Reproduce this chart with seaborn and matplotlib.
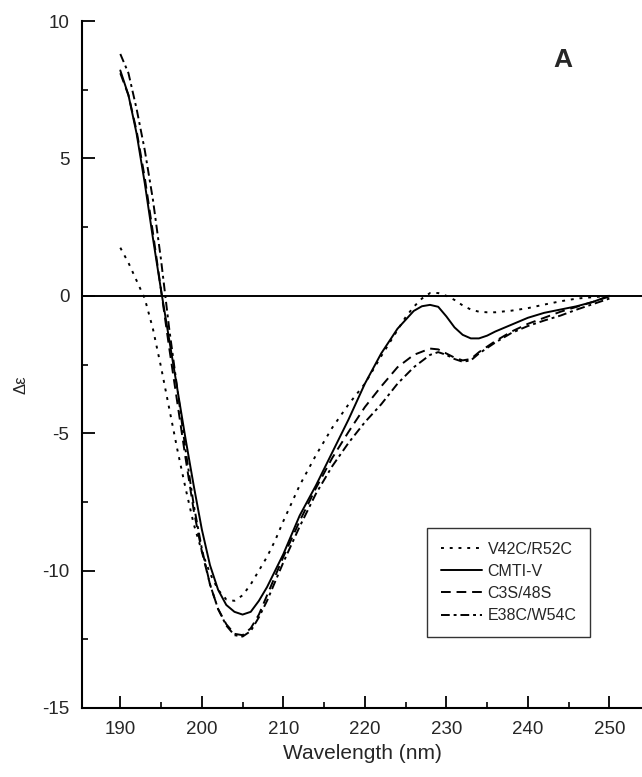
import numpy as np
import pandas as pd
import matplotlib
matplotlib.use("Agg")
import matplotlib.pyplot as plt
import seaborn as sns
from matplotlib.ticker import MultipleLocator
from matplotlib.lines import Line2D

# ---- data ----
wl_v42 = [190, 191, 192, 193, 194, 195, 196, 197, 198, 199, 200, 201, 202, 203, 204, 205, 206, 207, 208, 209,
          210, 212, 214, 216, 218, 220, 222, 224, 225, 226, 227, 228, 229, 230, 231, 232, 233, 234, 235, 236,
          238, 240, 242, 244, 246, 248, 250]
de_v42 = [1.75, 1.2, 0.55, -0.1, -1.2, -2.6, -4.1, -5.6, -7.0, -8.3, -9.3, -10.1, -10.7, -11.05, -11.1, -10.9, -10.5, -10.0, -9.5, -8.9,
          -8.2, -6.9, -5.8, -4.8, -3.95, -3.2, -2.2, -1.25, -0.78, -0.4, -0.1, 0.1, 0.1, 0.0, -0.15, -0.35, -0.5, -0.58, -0.6, -0.6,
          -0.54, -0.45, -0.32, -0.2, -0.1, -0.05, 0.0]

wl_cmti = [190, 191, 192, 193, 194, 195, 196, 197, 198, 199, 200, 201, 202, 203, 204, 205, 206, 207, 208, 209,
           210, 212, 214, 216, 218, 220, 222, 224, 226, 227, 228, 229, 230, 231, 232, 233, 234, 235, 236,
           238, 240, 242, 244, 246, 248, 250]
de_cmti = [8.2, 7.3, 5.9, 4.1, 2.1, 0.2, -1.6, -3.4, -5.2, -6.9, -8.5, -9.8, -10.7, -11.25, -11.5, -11.6, -11.5, -11.1, -10.6, -10.0,
           -9.4, -8.0, -6.9, -5.7, -4.5, -3.2, -2.1, -1.2, -0.55, -0.38, -0.33, -0.4, -0.75, -1.15, -1.42, -1.55, -1.55, -1.45, -1.3,
           -1.05, -0.8, -0.62, -0.5, -0.38, -0.22, 0.0]

wl_c3s = [190, 191, 192, 193, 194, 195, 196, 197, 198, 199, 200, 201, 202, 203, 204, 205, 206, 207, 208, 209,
          210, 212, 214, 216, 218, 220, 222, 224, 226, 228, 229, 230, 231, 232, 233, 234, 236,
          238, 240, 242, 244, 246, 248, 250]
de_c3s = [8.1, 7.3, 6.0, 4.3, 2.3, 0.2, -1.9, -3.9, -5.9, -7.8, -9.3, -10.5, -11.4, -11.95, -12.3, -12.35, -12.1, -11.6, -10.9, -10.2,
          -9.5, -8.2, -7.0, -5.9, -4.95, -4.05, -3.3, -2.6, -2.15, -1.92, -1.95, -2.1, -2.25, -2.35, -2.3, -2.05, -1.65,
          -1.3, -1.02, -0.8, -0.58, -0.4, -0.22, -0.02]

wl_e38 = [190, 191, 192, 193, 194, 195, 196, 197, 198, 199, 200, 201, 202, 203, 204, 205, 206, 207, 208, 209,
          210, 212, 214, 216, 218, 220, 222, 224, 226, 228, 229, 230, 231, 232, 233, 234, 236,
          238, 240, 242, 244, 246, 248, 250]
de_e38 = [8.8, 8.1, 6.8, 5.3, 3.5, 1.3, -1.2, -3.4, -5.6, -7.6, -9.2, -10.5, -11.4, -12.0, -12.35, -12.4, -12.2, -11.7, -11.1, -10.4,
          -9.7, -8.4, -7.2, -6.2, -5.35, -4.6, -3.95, -3.2, -2.6, -2.15, -2.05, -2.15, -2.3, -2.4, -2.35, -2.1, -1.7,
          -1.35, -1.1, -0.9, -0.72, -0.5, -0.3, -0.1]

labels = ["V42C/R52C", "CMTI-V", "C3S/48S", "E38C/W54C"]
xticks = [190, 200, 210, 220, 230, 240, 250]
yticks = [-15, -10, -5, 0, 5, 10]

styles = [(0, (1.5, 3.0)), "-", (0, (5.0, 3.0)), (0, (4.5, 2.0, 1.5, 2.0))]

sns.set_style("ticks")
plt.rcParams["font.family"] = ["Liberation Sans", "DejaVu Sans"]
plt.rcParams["axes.unicode_minus"] = False

fig = plt.figure(figsize=(6.42, 7.77), dpi=100)
ax = fig.add_axes([82 / 642, 69 / 777, 560 / 642, 687 / 777])

series = [(wl_v42, de_v42), (wl_cmti, de_cmti), (wl_c3s, de_c3s), (wl_e38, de_e38)]
handles = []
for (wl, de), lab, ls in zip(series, labels, styles):
    df = pd.DataFrame({"wl": wl, "de": de})
    sns.lineplot(data=df, x="wl", y="de", ax=ax, color="black", linewidth=1.4,
                 linestyle=ls, sort=True, legend=False)
    handles.append(Line2D([0], [0], color="black", linewidth=1.4, linestyle=ls, label=lab))

ax.axhline(0, color="black", linewidth=1.4)

ax.set_xlim(185.3, 254.0)
ax.set_ylim(-15, 10)
ax.set_xticks(xticks)
ax.set_yticks(yticks)
ax.xaxis.set_minor_locator(MultipleLocator(5))
ax.yaxis.set_minor_locator(MultipleLocator(2.5))
ax.tick_params(which="major", direction="in", length=9, width=1.3, labelsize=13.5, pad=9, color="black")
ax.tick_params(which="minor", direction="in", length=4.5, width=1.2, color="black")
for s in ["top", "right"]:
    ax.spines[s].set_visible(False)
for s in ["left", "bottom"]:
    ax.spines[s].set_linewidth(1.5)
    ax.spines[s].set_color("black")

ax.set_xlabel("Wavelength (nm)", fontsize=15, labelpad=5)
ax.set_ylabel("Δε", fontsize=12)
ax.yaxis.set_label_coords(-0.095, 0.47)

ax.text(0.859, 0.943, "A", transform=ax.transAxes, fontsize=19, fontweight="bold",
        ha="center", va="center")

leg = ax.legend(handles=handles, loc="upper left", bbox_to_anchor=(0.616, 0.262),
                frameon=True, fancybox=False, fontsize=11.5, handlelength=2.6,
                handletextpad=0.35, labelspacing=0.45, borderpad=0.85, borderaxespad=0)
leg.get_frame().set_edgecolor("black")
leg.get_frame().set_linewidth(1.0)

fig.savefig("out.png", dpi=100)
